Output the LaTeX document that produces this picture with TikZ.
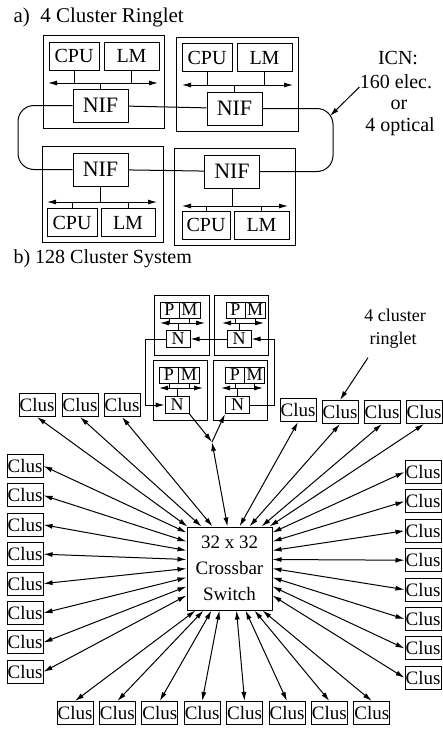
\documentclass[tikz,border=0pt]{standalone}
\usepackage{fontspec}
\setmainfont{Liberation Serif}
\usetikzlibrary{arrows.meta}

\begin{document}
\begin{tikzpicture}[x=1pt,y=-1pt,line width=1pt,>={Latex[length=9pt,width=5pt]},
  txt/.style={inner sep=0pt,font=\fontsize{20}{24}\selectfont},
  cellbox/.style={draw,inner sep=0pt,minimum height=28pt,font=\fontsize{20}{24}\selectfont},
  nif/.style={cellbox,minimum width=55pt,minimum height=33pt,font=\fontsize{22}{24}\selectfont},
  pm/.style={draw,inner sep=0pt,minimum height=16pt,font=\fontsize{18}{18}\selectfont},
  nd/.style={draw,inner sep=0pt,minimum width=24pt,minimum height=17pt,font=\fontsize{18}{18}\selectfont},
  clus/.style={draw,inner sep=0pt,minimum width=36pt,minimum height=23pt,font=\fontsize{19}{20}\selectfont}]
  \useasboundingbox (0,0) rectangle (442,731);

  % a) 4 cluster ringlet
  \node[txt,anchor=base west,font=\fontsize{21}{24}\selectfont] (ta) at (13,22) {a)\enspace 4 Cluster Ringlet};

  \draw (43,35) rectangle (164,128);
  \node[cellbox,minimum width=50pt] (cpuA) at (74,56) {CPU};
  \node[cellbox,minimum width=55pt] (lmA) at (131.5,56) {LM};
  \node[nif] (nifA) at (100.5,105.5) {NIF};
  \coordinate (busA) at (48,83);
  \coordinate (busAe) at (158,83);
  \draw[<->] (busA) -- (busAe);
  \draw (cpuA) -- (cpuA |- busA);
  \draw (lmA) -- (lmA |- busA);
  \draw (nifA) -- (nifA |- busA);

  \draw (176,37) rectangle (298,131);
  \node[cellbox,minimum width=50pt] (cpuB) at (207,57.5) {CPU};
  \node[cellbox,minimum width=55pt] (lmB) at (264.5,57.5) {LM};
  \node[nif] (nifB) at (234.5,108.5) {NIF};
  \coordinate (busB) at (182,85);
  \coordinate (busBe) at (293,85);
  \draw[<->] (busB) -- (busBe);
  \draw (cpuB) -- (cpuB |- busB);
  \draw (lmB) -- (lmB |- busB);
  \draw (nifB) -- (nifB |- busB);

  \draw (42,146) rectangle (163,242);
  \node[nif] (nifC) at (100.5,169.5) {NIF};
  \node[cellbox,minimum width=50pt] (cpuC) at (72,222.5) {CPU};
  \node[cellbox,minimum width=54pt] (lmC) at (128,222.5) {LM};
  \coordinate (busC) at (47,202);
  \coordinate (busCe) at (157,202);
  \draw[<->] (busC) -- (busCe);
  \draw (cpuC) -- (cpuC |- busC);
  \draw (lmC) -- (lmC |- busC);
  \draw (nifC) -- (nifC |- busC);

  \draw (174,148) rectangle (295,245);
  \node[nif] (nifD) at (232,171.5) {NIF};
  \node[cellbox,minimum width=48pt] (cpuD) at (206,225) {CPU};
  \node[cellbox,minimum width=55pt] (lmD) at (261.5,225) {LM};
  \coordinate (busD) at (182,206);
  \coordinate (busDe) at (288,206);
  \draw[<->] (busD) -- (busDe);
  \draw (cpuD) -- (cpuD |- busD);
  \draw (lmD) -- (lmD |- busD);
  \draw (nifD) -- (nifD |- busD);

  % the ring
  \draw[rounded corners=16pt] (nifA.west) -- (18,105.5) -- (18,169.5) -- (nifC.west);
  \draw (nifA) -- (nifB);
  \draw (nifC) -- (nifD);
  \draw[rounded corners=16pt] (nifB.east) -- (333,108.5) -- (333,171.5) -- (nifD.east);

  \node[txt] (icn1) at (398,58) {ICN:};
  \node[txt] (icn2) at (396,82) {160 elec.};
  \node[txt] (icn3) at (399,105) {or};
  \node[txt] (icn4) at (400,127) {4 optical};
  \coordinate (ringE) at (330,116);
  \draw[->] ([yshift=-5pt]icn2.west) -- (ringE);

  % b) 128 cluster system
  \node[txt,anchor=base west] (tb) at (13,263) {b) 128 Cluster System};

  \draw (154,295) rectangle (209,355);
  \node[pm,minimum width=19pt] (pA) at (169.5,310) {P};
  \node[pm,minimum width=21pt] (mA) at (189.5,310) {M};
  \node[nd] (nA) at (178,339) {N};
  \coordinate (bA) at (160,323);
  \coordinate (bAe) at (205,323);
  \draw[<->] (bA) -- (bAe);
  \draw (pA) -- (pA |- bA);
  \draw (mA) -- (mA |- bA);
  \draw (nA) -- (nA |- bA);

  \draw (214,295) rectangle (268,355);
  \node[pm,minimum width=19pt] (pB) at (235.5,310) {P};
  \node[pm,minimum width=20pt] (mB) at (255,310) {M};
  \node[nd] (nB) at (239,339) {N};
  \coordinate (bB) at (222,323);
  \coordinate (bBe) at (264,323);
  \draw[<->] (bB) -- (bBe);
  \draw (pB) -- (pB |- bB);
  \draw (mB) -- (mB |- bB);
  \draw (nB) -- (nB |- bB);

  \draw (153,360) rectangle (207,420);
  \node[pm,minimum width=19pt] (pC) at (169,375) {P};
  \node[pm,minimum width=21pt] (mC) at (189,375) {M};
  \node[nd] (nC) at (177,405) {N};
  \coordinate (bC) at (159,388);
  \coordinate (bCe) at (203,388);
  \draw[<->] (bC) -- (bCe);
  \draw (pC) -- (pC |- bC);
  \draw (mC) -- (mC |- bC);
  \draw (nC) -- (nC |- bC);

  \draw (213,360) rectangle (267,420);
  \node[pm,minimum width=19pt] (pD) at (235,375) {P};
  \node[pm,minimum width=20pt] (mD) at (254.5,375) {M};
  \node[nd] (nD) at (237.5,405) {N};
  \coordinate (bD) at (221,388);
  \coordinate (bDe) at (263,388);
  \draw[<->] (bD) -- (bDe);
  \draw (pD) -- (pD |- bD);
  \draw (mD) -- (mD |- bD);
  \draw (nD) -- (nD |- bD);

  \draw[->] (nB) -- (nA);
  \draw[->] (nA.west) -- (145,339) -- (145,405) -- (nC.west);
  \draw[->] (nD.east) -- (274,405) -- (274,339) -- (nB.east);

  \node[draw,inner sep=0pt,minimum width=85pt,minimum height=83pt,align=center,
    font=\fontsize{19}{26}\selectfont] (sw) at (229.5,568.5) {32 x 32\\Crossbar\\Switch};

  \coordinate (mg) at (212,442);
  \draw[->] (nC.south east) -- (mg);
  \draw[->] (mg) -- (nD.south west);
  \draw[<->] (mg) -- ([xshift=41pt]sw.north west);

  \node[inner sep=0pt,font=\fontsize{18}{20}\selectfont] (rl1) at (395,315) {4 cluster};
  \node[inner sep=0pt,font=\fontsize{18}{20}\selectfont] (rl2) at (393,340) {ringlet};

  % the other 31 clusters
  \foreach \n/\x/\y/\e in {t1/37/405/1, t2/80/405/15, t3/122/405/26, t4/298/410/53,
      t5/340/412/63, t6/382/412/75, t7/424/412/83}
  {\node[clus] (\n) at (\x,\y) {Clus};
   \draw[<->] (\n.south) -- ([xshift=\e pt]sw.north west);}

  \foreach \i [evaluate=\i as \y using 466+29.4*\i, evaluate=\i as \e using 6+9*\i] in {0,...,7}
  {\node[clus] (l\i) at (25,\y) {Clus};
   \draw[<->] (l\i.east) -- ([yshift=-\e pt]sw.north west);}

  \foreach \i [evaluate=\i as \y using 472+29.4*\i, evaluate=\i as \e using 6+9*\i] in {0,...,7}
  {\node[clus] (r\i) at (423,\y) {Clus};
   \draw[<->] (r\i.west) -- ([yshift=-\e pt]sw.north east);}

  \foreach \i/\e in {0/9,1/17,2/25,3/33,4/50,5/59,6/68,7/76}
  {\node[clus] (b\i) at ({75+42.4*\i},713) {Clus};
   \draw[<->] (b\i.north) -- ([xshift=\e pt]sw.south west);}

  \draw[->] ([shift={(-1pt,-9pt)}]rl2.south west) -- (t5.north);
\end{tikzpicture}
\end{document}
